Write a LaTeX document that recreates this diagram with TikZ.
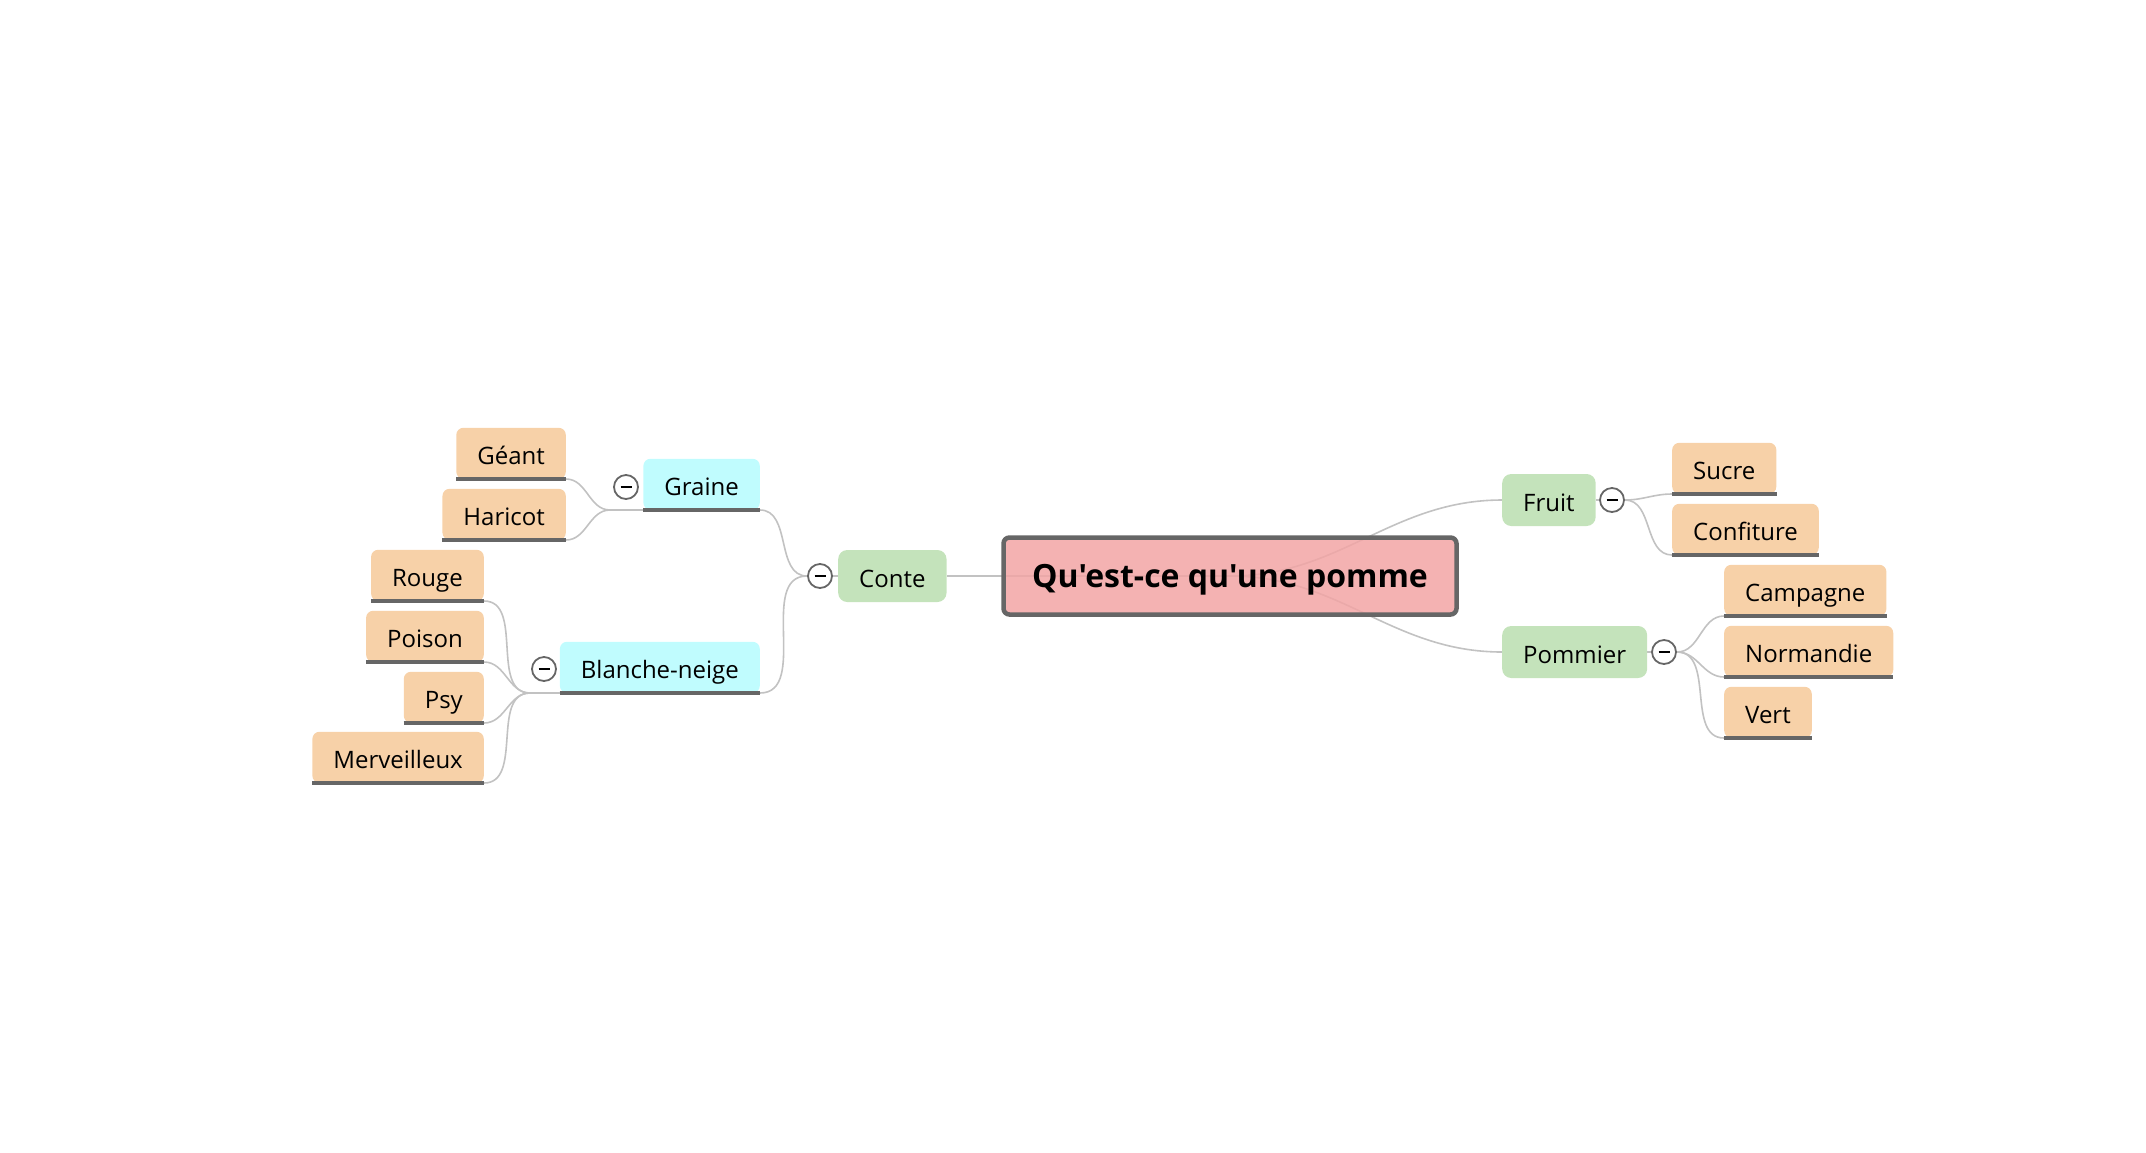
\documentclass[tikz,border=0pt]{standalone}
\usepackage{fontspec}
\setmainfont{Open Sans}[Ligatures=TeXOff]
\usetikzlibrary{backgrounds}
\definecolor{leafc}{HTML}{F7D1A8}
\definecolor{subc}{HTML}{C0FCFE}
\definecolor{topc}{HTML}{C4E3BB}
\definecolor{rootc}{HTML}{F2A5A5}
\definecolor{edgec}{HTML}{666666}
\definecolor{linkc}{HTML}{C2C2C2}

\begin{document}
\begin{tikzpicture}[x=1pt, y=-1pt,
  box/.style={inner xsep=21pt, inner ysep=0pt, minimum height=51pt, text height=22pt, text depth=0pt,
    font=\fontsize{24}{28}\selectfont, rounded corners=7pt},
  uline/.style={draw=edgec, line width=3.5pt},
  leaf/.style={box, fill=leafc,
    append after command={(\tikzlastnode.south west) edge[uline] (\tikzlastnode.south east)}},
  subtopic/.style={box, fill=subc,
    append after command={(\tikzlastnode.south west) edge[uline] (\tikzlastnode.south east)}},
  topic/.style={box, fill=topc, minimum height=52pt, rounded corners=9pt},
  root/.style={draw=edgec, line width=4.5pt, fill=rootc, fill opacity=0.85, text opacity=1,
    rounded corners=6pt, minimum width=453pt, minimum height=77pt, text height=23pt, text depth=0pt,
    font=\fontsize{32}{38}\selectfont\bfseries},
  link/.style={draw=linkc, line width=1.6pt},
  toggle/.style={circle, draw=edgec, line width=1.8pt, fill=white, minimum size=24pt, inner sep=0pt,
    path picture={\draw[black, line width=2pt] ([xshift=-5.5pt]path picture bounding box.center)
      -- ([xshift=5.5pt]path picture bounding box.center);}}]
\useasboundingbox (0,0) rectangle (2146,1152);

\node[root] (root) at (1230,576) {Qu'est-ce qu'une pomme};

\node[topic, anchor=west] (conte) at (838,576) {Conte};
\node[topic, anchor=west] (fruit) at (1502,500) {Fruit};
\node[topic, anchor=west] (pommier) at (1502,652) {Pommier};

\node[subtopic, anchor=south east] (graine) at (760,510) {Graine};
\node[subtopic, anchor=south east] (blanche) at (760,693) {Blanche-neige};

\node[leaf, anchor=south east] (geant) at (566,479) {Géant};
\node[leaf, anchor=south east] (haricot) at (566,540) {Haricot};
\node[leaf, anchor=south east] (rouge) at (484,601) {Rouge};
\node[leaf, anchor=south east] (poison) at (484,662) {Poison};
\node[leaf, anchor=south east] (psy) at (484,723) {Psy};
\node[leaf, anchor=south east] (merveilleux) at (484,783) {Merveilleux};

\node[leaf, anchor=south west] (sucre) at (1672,494) {Sucre};
\node[leaf, anchor=south west] (confiture) at (1672,555) {Confiture};
\node[leaf, anchor=south west] (campagne) at (1724,616) {Campagne};
\node[leaf, anchor=south west] (normandie) at (1724,677) {Normandie};
\node[leaf, anchor=south west] (vert) at (1724,738) {Vert};

\coordinate (jc) at (807,576);
\coordinate (jg) at (610,510);
\coordinate (jb) at (530,693);
\coordinate (jf) at (1625,500);
\coordinate (jp) at (1677,652);

\node[toggle] (tc) at (820,576) {};
\node[toggle] (tg) at (626,487) {};
\node[toggle] (tb) at (544,669) {};
\node[toggle] (tf) at (1612,500) {};
\node[toggle] (tp) at (1664,652) {};

\begin{scope}[on background layer]
\draw[link] (root.center) -- (conte.east) (conte.west) -- (jc);
\draw[link] (root.center) to[out=0, in=180] (fruit.west);
\draw[link] (root.center) to[out=0, in=180] (pommier.west);
\draw[link] (graine.south east) to[out=0, in=180] (jc);
\draw[link] (blanche.south east) to[out=0, in=180] (jc);
\draw[link] (jg) -- (graine.south east) (jb) -- (blanche.south east);
\foreach \n in {geant,haricot}
  \draw[link] (\n.south east) to[out=0, in=180] (jg);
\foreach \n in {rouge,poison,psy,merveilleux}
  \draw[link] (\n.south east) to[out=0, in=180] (jb);
\draw[link] (fruit.east) -- (jf) (pommier.east) -- (jp);
\foreach \n in {sucre,confiture}
  \draw[link] (jf) to[out=0, in=180] (\n.south west);
\foreach \n in {campagne,normandie,vert}
  \draw[link] (jp) to[out=0, in=180] (\n.south west);
\end{scope}
\end{tikzpicture}
\end{document}
